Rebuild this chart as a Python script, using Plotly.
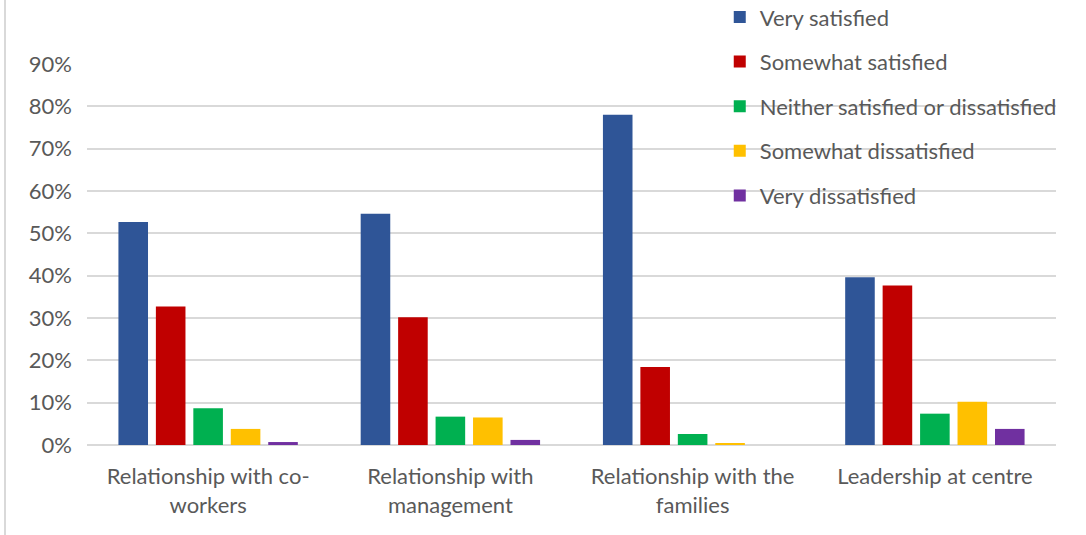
import plotly.graph_objects as go

categories = [
    "Relationship with co-<br>workers",
    "Relationship with<br>management",
    "Relationship with the<br>families",
    "Leadership at centre",
]

very_satisfied = [52.7, 54.6, 78.0, 39.6]
somewhat_satisfied = [32.7, 30.2, 18.4, 37.7]
neither = [8.7, 6.7, 2.6, 7.4]
somewhat_dissatisfied = [3.8, 6.5, 0.3, 10.2]
very_dissatisfied = [0.7, 1.2, 0.0, 3.8]

series_names = [
    "Very satisfied",
    "Somewhat satisfied",
    "Neither satisfied or dissatisfied",
    "Somewhat dissatisfied",
    "Very dissatisfied",
]
series_values = [very_satisfied, somewhat_satisfied, neither,
                 somewhat_dissatisfied, very_dissatisfied]
colors = ["#2F5597", "#C00000", "#00B050", "#FFC000", "#7030A0"]

y_ticks = [0, 10, 20, 30, 40, 50, 60, 70, 80, 90]
y_tick_labels = [f"{v}%" for v in y_ticks]

FONT = "Lato, 'Open Sans', sans-serif"
TEXT = "#595959"
SIZE = 22

fig = go.Figure()
for name, vals, col in zip(series_names, series_values, colors):
    fig.add_trace(go.Bar(
        x=categories, y=vals, name=name, legendgroup=name,
        marker=dict(color=col, line=dict(width=0)),
        hoverinfo="x+y+name",
    ))

fig.update_layout(
    width=1086, height=535,
    margin=dict(l=87, r=30, t=64, b=90, autoexpand=False),
    paper_bgcolor="white", plot_bgcolor="white",
    barmode="group", bargap=0.227, bargroupgap=0.21,
    font=dict(family=FONT, size=SIZE, color=TEXT),
    legend=dict(
        x=0.653, y=1.178, xanchor="left", yanchor="top",
        bgcolor="rgba(0,0,0,0)", tracegroupgap=13,
        font=dict(family=FONT, size=SIZE, color=TEXT),
    ),
    showlegend=True,
)

fig.update_xaxes(
    showgrid=False, showline=False, ticks="", ticklabelstandoff=16,
    tickfont=dict(family=FONT, size=SIZE, color=TEXT),
)
fig.update_yaxes(
    range=[0, 90], tickvals=y_ticks, ticktext=y_tick_labels,
    showgrid=True, gridcolor="#D9D9D9", gridwidth=1.5,
    zeroline=True, zerolinecolor="#D9D9D9", zerolinewidth=1.5,
    showline=False, ticks="", ticklabelstandoff=14,
    tickfont=dict(family=FONT, size=SIZE, color=TEXT),
)

# chart frame edge on the left
fig.add_shape(
    type="line", xref="paper", yref="paper",
    x0=-0.0846, x1=-0.0846, y0=-0.24, y1=1.17,
    line=dict(color="#D9D9D9", width=2),
)

fig.write_html("out.html")
